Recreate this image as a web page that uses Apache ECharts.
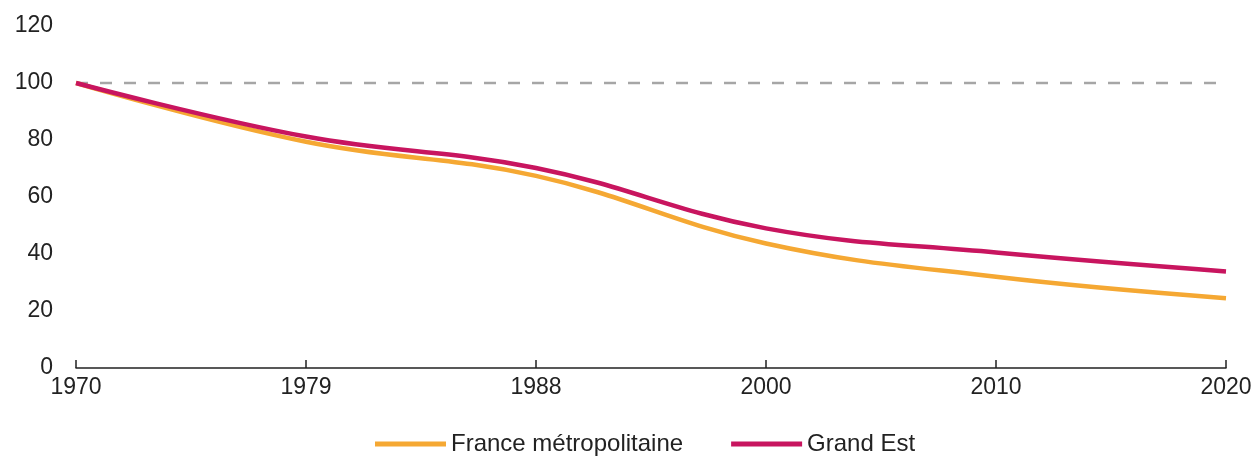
<!DOCTYPE html>
<html><head><meta charset="utf-8">
<script src="https://cdn.jsdelivr.net/npm/echarts@6/dist/echarts.min.js"></script>
<style>html,body{margin:0;padding:0;background:#fff}#c{width:1255px;height:470px}</style>
</head><body><div id="c"></div>
<script>
var categories = ['1970','1979','1988','2000','2010','2020'];
var france = [100, 79.4, 67.4, 43.7, 32.0, 24.5];
var grandEst = [100, 81.2, 70.2, 49.0, 40.5, 33.9];
var refLine = [100, 100, 100, 100, 100, 100];

var chart = echarts.init(document.getElementById('c'));
chart.setOption({
  animation: false,
  grid: {left: 76, right: 29, top: 26, bottom: 102},
  legend: {
    top: 427, left: 370, itemWidth: 71, itemHeight: 5, itemGap: 48,
    icon: 'rect',
    textStyle: {fontFamily: 'Liberation Sans', fontSize: 24, color: '#222'},
    data: ['France métropolitaine', 'Grand Est']
  },
  xAxis: {
    type: 'category', data: categories, boundaryGap: false,
    axisLine: {lineStyle: {color: '#222', width: 1.5}},
    axisTick: {inside: true, length: 8, lineStyle: {color: '#222', width: 1.5}},
    axisLabel: {fontFamily: 'Liberation Sans', fontSize: 23, color: '#222', margin: 8}
  },
  yAxis: {
    type: 'value', min: 0, max: 120, interval: 20,
    axisLine: {show: false}, axisTick: {show: false}, splitLine: {show: false},
    axisLabel: {fontFamily: 'Liberation Sans', fontSize: 23, color: '#222', margin: 23}
  },
  series: [
    {name: 'ref', type: 'line', data: refLine, symbol: 'none', silent: true,
     lineStyle: {color: '#a6a6a6', width: 2.5, type: [12, 12]}, z: 1},
    {name: 'France métropolitaine', type: 'line', data: france, smooth: 0.4, symbol: 'none',
     itemStyle: {color: '#f5a833'}, lineStyle: {color: '#f5a833', width: 4.5}, z: 2},
    {name: 'Grand Est', type: 'line', data: grandEst, smooth: 0.4, symbol: 'none',
     itemStyle: {color: '#c8155f'}, lineStyle: {color: '#c8155f', width: 4.5}, z: 3}
  ]
});
</script></body></html>
